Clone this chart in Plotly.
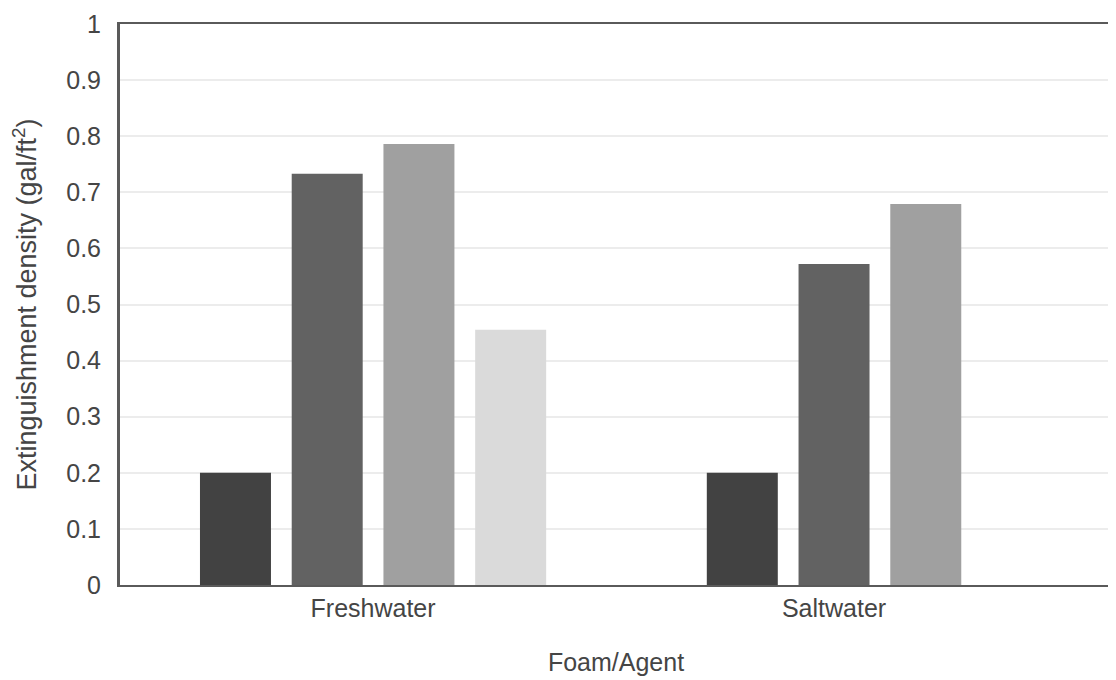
import plotly.graph_objects as go

categories = ["Freshwater", "Saltwater"]
series_a = [0.20, 0.20]
series_b = [0.733, 0.572]
series_c = [0.786, 0.679]
series_d = [0.455, None]
series_values = [series_a, series_b, series_c, series_d]
colors = ["#424242", "#626262", "#a0a0a0", "#dadada"]
y_tick_vals = [0, 0.1, 0.2, 0.3, 0.4, 0.5, 0.6, 0.7, 0.8, 0.9, 1]
y_tick_text = ["0", "0.1", "0.2", "0.3", "0.4", "0.5", "0.6", "0.7", "0.8", "0.9", "1"]

BAR_W = 0.154
GAP = 0.045
STEP = BAR_W + GAP

# bars in each category are centred on the category (missing values collapse)
counts = [sum(1 for s in series_values if s[i] is not None) for i in range(len(categories))]
rank = [[0] * len(categories) for _ in series_values]
for i in range(len(categories)):
    k = 0
    for j, s in enumerate(series_values):
        if s[i] is not None:
            rank[j][i] = k
            k += 1

FONT = "Liberation Sans, Arial, sans-serif"
TXT = "#454545"
fig = go.Figure()
for j, s in enumerate(series_values):
    offs = [-(counts[i] * STEP - GAP) / 2 + rank[j][i] * STEP for i in range(len(categories))]
    fig.add_trace(go.Bar(
        x=categories, y=s, width=BAR_W, offset=offs,
        marker=dict(color=colors[j], line=dict(width=0)),
        showlegend=False,
    ))

fig.update_layout(
    width=1116, height=680,
    barmode="overlay",
    paper_bgcolor="white", plot_bgcolor="white",
    margin=dict(l=112, r=12, t=16, b=103),
    font=dict(family=FONT, size=25, color=TXT),
)
fig.update_xaxes(
    type="category", range=[-0.549, 1.603], automargin=False,
    showline=True, linecolor="#5a5a5a", linewidth=2, mirror=True,
    showgrid=False, ticks="", tickfont=dict(size=25, color=TXT),
    title=dict(text="Foam/Agent", font=dict(size=25, color=TXT), standoff=32),
)
fig.update_yaxes(
    range=[0, 1], tickvals=y_tick_vals, ticktext=y_tick_text, automargin=False,
    showline=True, linecolor="#5a5a5a", linewidth=3,
    showgrid=True, gridcolor="#ececec", gridwidth=2,
    zeroline=False, ticks="", ticklabelstandoff=11,
    tickfont=dict(size=25, color=TXT),
    title=dict(text="Extinguishment density (gal/ft<sup>2</sup>)", font=dict(size=27, color=TXT), standoff=34),
)
fig.write_html("out.html")
